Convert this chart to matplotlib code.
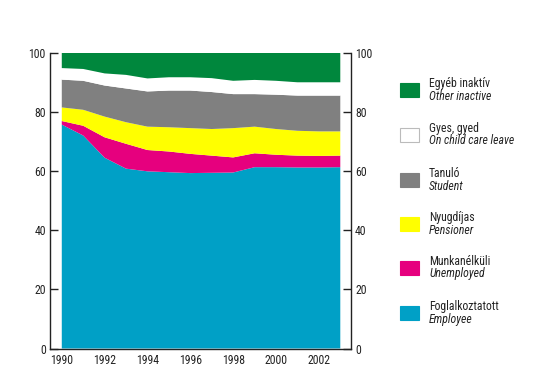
import matplotlib
matplotlib.use("Agg")
import matplotlib.pyplot as plt
from matplotlib.patches import Rectangle

years = list(range(1990, 2004))
employee   = [75.7, 72.0, 64.5, 60.8, 59.9, 59.6, 59.3, 59.4, 59.5, 61.3, 61.3, 61.2, 61.2, 61.3]
unemployed = [1.2, 3.3, 6.9, 8.4, 7.2, 7.0, 6.5, 5.8, 5.1, 4.7, 4.2, 4.0, 3.9, 3.9]
pensioner  = [4.6, 5.4, 7.0, 7.3, 7.9, 8.2, 8.7, 9.0, 9.9, 9.0, 8.7, 8.4, 8.3, 8.2]
student    = [9.4, 9.8, 10.5, 11.4, 11.9, 12.4, 12.7, 12.5, 11.5, 11.0, 11.6, 11.9, 12.1, 12.1]
childcare  = [3.9, 4.0, 4.1, 4.6, 4.4, 4.5, 4.5, 4.7, 4.5, 4.8, 4.7, 4.5, 4.5, 4.5]
other      = [5.2, 5.5, 7.0, 7.5, 8.7, 8.3, 8.3, 8.6, 9.5, 9.2, 9.5, 10.0, 10.0, 10.0]

labels_hu = ["Foglalkoztatott", "Munkanélküli", "Nyugdíjas", "Tanuló", "Gyes, gyed", "Egyéb inaktív"]
labels_en = ["Employee", "Unemployed", "Pensioner", "Student", "On child care leave", "Other inactive"]
colors = ["#00A0C6", "#E6007E", "#FFFF00", "#808080", "#FFFFFF", "#00873D"]
series = [employee, unemployed, pensioner, student, childcare, other]

plt.rcParams['font.family'] = ["Roboto Condensed", "DejaVu Sans"]
FS = 8.5
TXT = "#222222"

fig = plt.figure(figsize=(5.35, 3.92), dpi=100)
ax = fig.add_axes([50/535, 1-348.5/392, (351-50)/535, (348.5-52.7)/392])

ax.stackplot(years, *series, colors=colors, linewidth=0)
ax.set_xlim(1989.45, 2003.5)
ax.set_ylim(0, 100)

ax.spines["top"].set_visible(False)
for s in ["left", "right", "bottom"]:
    ax.spines[s].set_linewidth(1.0)
    ax.spines[s].set_color(TXT)

ax.set_yticks([0, 20, 40, 60, 80, 100])
ax.tick_params(axis="y", direction="in", length=6, width=1, labelsize=FS,
               left=True, right=True, labelleft=True, labelright=True, pad=3, colors=TXT)
ax.set_xticks(range(1990, 2003, 2))
ax.tick_params(axis="x", length=0, labelsize=FS, pad=4, colors=TXT)

# legend
box_x0, box_w, box_h = 400, 19, 14
centers = [313, 268, 224, 180, 135, 90]
for i in range(6):
    cy = centers[i]
    fig.patches.append(Rectangle((box_x0/535, 1-(cy+box_h/2)/392), box_w/535, box_h/392,
                                 transform=fig.transFigure, facecolor=colors[i],
                                 edgecolor="#BBBBBB" if colors[i] == "#FFFFFF" else colors[i],
                                 linewidth=0.8))
    fig.text(429/535, 1-(cy-6.5)/392, labels_hu[i], fontsize=FS, va="center", ha="left", color=TXT)
    fig.text(429/535, 1-(cy+6)/392, labels_en[i], fontsize=FS, va="center", ha="left",
             style="italic", color=TXT)

fig.savefig("out.png", dpi=100)
